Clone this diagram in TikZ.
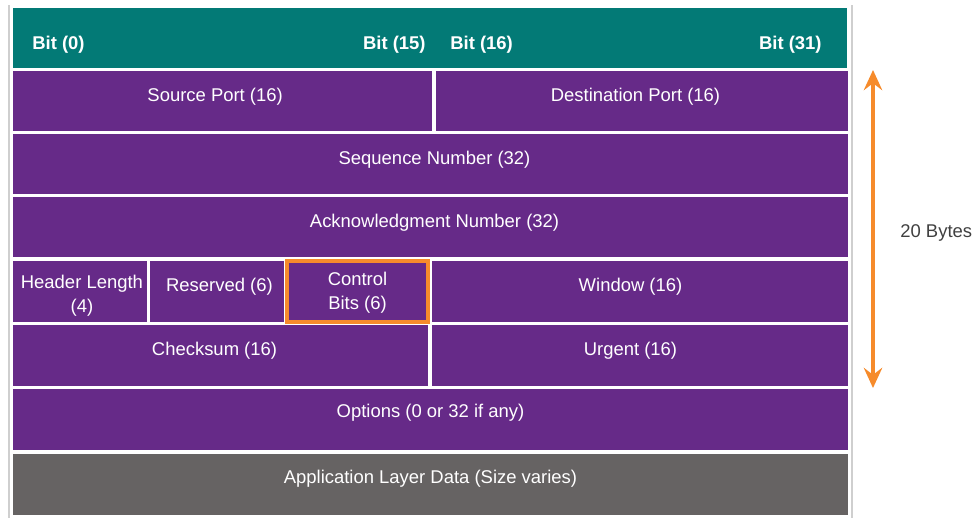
\documentclass[tikz,border=0pt]{standalone}
\usepackage{fontspec}
\setmainfont{Liberation Sans}
\usetikzlibrary{positioning,calc,fit,arrows.meta}
\definecolor{hdrteal}{HTML}{037A76}
\definecolor{segpurple}{HTML}{662A88}
\definecolor{datagray}{HTML}{666363}
\definecolor{hiorange}{HTML}{F68B2B}
\definecolor{framegray}{HTML}{CFCFCF}
\definecolor{sidetext}{HTML}{404040}
\tikzset{
  field/.style     = {inner sep=0pt, draw=none, fill=segpurple},
  datafield/.style = {field, fill=datagray},
  hdrfield/.style  = {field, fill=hdrteal},
  fieldtxt/.style  = {inner sep=0pt, text=white, align=center,
                      font=\fontsize{10.5}{13.6}\selectfont},
  bitlabel/.style  = {fieldtxt, font=\fontsize{10.5}{13.6}\selectfont\bfseries},
  hilite/.style    = {draw=hiorange, line width=2.3pt},
  lenarrow/.style  = {<->, draw=hiorange, line width=1.8pt},
  >={Stealth[length=11.5pt,width=10.5pt,inset=4pt]}
}
\newcommand{\DrawField}[6][yshift=2.5pt]{%
  % fills the cell between its two corners
  \node[#6, fit={#3 #4}] (#2) {};
  % writes the field name, a little above the middle
  \node[fieldtxt] (#2-txt) at ([#1]#2.center) {#5};
}

\begin{document}
\begin{tikzpicture}[x=0.02cm, y=-0.02cm]
  \useasboundingbox (0,0) rectangle (975,518);

  % thin frame lines left and right
  \draw[framegray, line width=0.6pt] (9,5) -- (9,518);
  \draw[framegray, line width=0.6pt] (852,5) -- (852,518);

  % bit header
  \node[hdrfield, fit={(13,8) (847,68)}] (hdr) {};
  \node[bitlabel, anchor=west] (bit0)  at (32,44.5)  {Bit (0)};
  \node[bitlabel, anchor=east] (bit15) at (426,44.5) {Bit (15)};
  \node[bitlabel, anchor=west] (bit16) at (450,44.5) {Bit (16)};
  \node[bitlabel, anchor=east] (bit31) at (822,44.5) {Bit (31)};

  % segment fields
  \DrawField[xshift=-4.2pt, yshift=2.5pt]{src}{(13,71)}{(432,131)}{Source Port (16)}{field}
  \DrawField[xshift=-3.7pt, yshift=2.5pt]{dst}{(436,71)}{(848,131)}{Destination Port (16)}{field}
  \DrawField[xshift=2.3pt, yshift=2.5pt]{seq}{(13,134)}{(848,194)}{Sequence Number (32)}{field}
  \DrawField[xshift=2.3pt, yshift=2.5pt]{ack}{(13,197)}{(848,257)}{Acknowledgment Number (32)}{field}
  \DrawField[xshift=1.1pt, yshift=-2.6pt]{hlen}{(13,261)}{(147,322)}{Header Length\\(4)}{field}
  \DrawField[yshift=-0.9pt]{ctl}{(287,261)}{(428,322)}{Control\\Bits (6)}{field}
  \DrawField[xshift=1.4pt, yshift=2.5pt]{rsv}{(150,261)}{(284,322)}{Reserved (6)}{field}
  \DrawField[xshift=-5.4pt, yshift=2.5pt]{win}{(432,261)}{(848,322)}{Window (16)}{field}
  \DrawField[xshift=-3.4pt, yshift=2.5pt]{chk}{(13,325)}{(428,386)}{Checksum (16)}{field}
  \DrawField[xshift=-5.4pt, yshift=2.5pt]{urg}{(432,325)}{(848,386)}{Urgent (16)}{field}
  \DrawField[yshift=4.1pt]{opt}{(13,389)}{(848,450)}{Options (0 or 32 if any)}{field}
  \DrawField[yshift=3.4pt]{app}{(13,454)}{(848,515)}{Application Layer Data (Size varies)}{datafield}

  % highlight round the control bits
  \draw[hilite] (ctl.north west) rectangle (ctl.south east);

  % header length marker
  \coordinate (len-top) at (873,70);
  \coordinate (len-bot) at (873,388);
  \draw[lenarrow] (len-top) -- (len-bot);
  \node[anchor=west, inner sep=0pt, text=sidetext,
        font=\fontsize{10.5}{13.6}\selectfont] (len-lbl) at (900,233) {20 Bytes};
\end{tikzpicture}
\end{document}
